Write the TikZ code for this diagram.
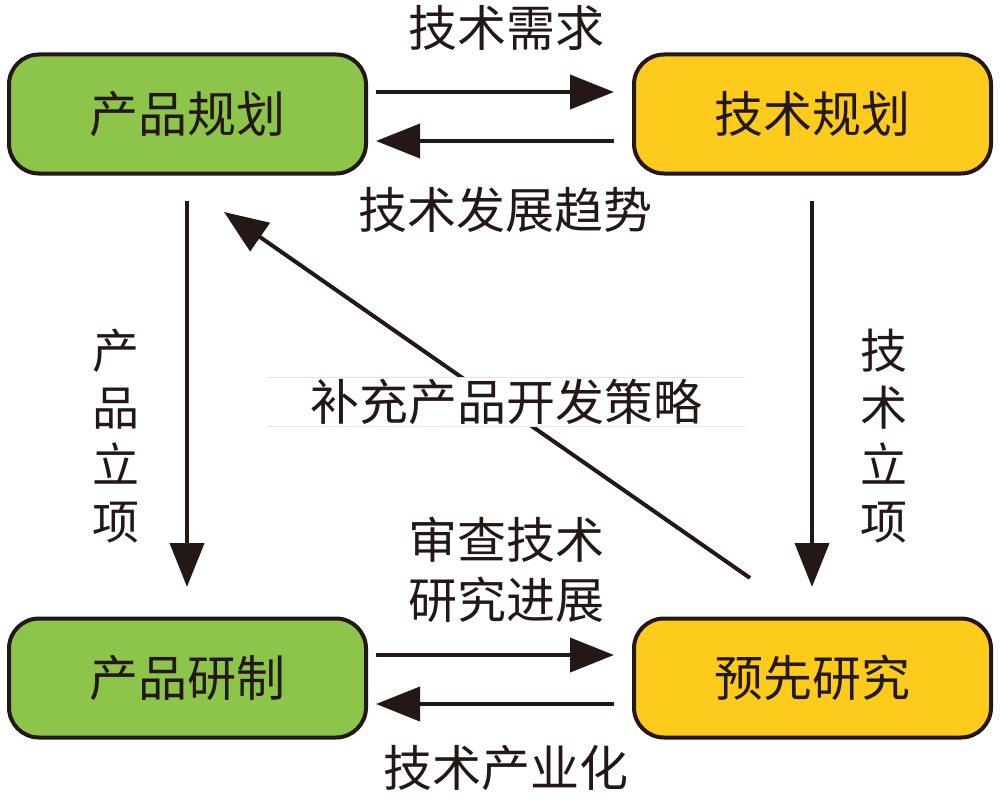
\documentclass[tikz,border=0pt]{standalone}
\usepackage{fontspec}
\newfontfamily\cjk{Noto Sans CJK SC}
\usetikzlibrary{arrows.meta}
\definecolor{boxgreen}{HTML}{8DC54B}
\definecolor{boxyellow}{HTML}{FCCB1C}
\definecolor{ink}{HTML}{231815}
\tikzset{
  box/.style={draw=ink, line width=4pt, rounded corners=30pt, minimum width=357pt, minimum height=119pt, font=\cjk\fontsize{49}{55}\selectfont, text=ink, inner sep=0pt},
  conn/.style={draw=ink, line width=4pt, -{Triangle[length=44pt,width=34pt]}},
  lbl/.style={font=\cjk\fontsize{49}{55}\selectfont, text=ink, inner sep=0pt},
  vlbl/.style={font=\cjk\fontsize{47}{57}\selectfont, text=ink, inner sep=0pt, align=center}
}
\begin{document}
\begin{tikzpicture}[x=1pt,y=-1pt]
\useasboundingbox (0,0) rectangle (1003,800);
\node[box, fill=boxgreen] (pp) at (187.5,114) {产品规划};
\node[box, fill=boxyellow] (tp) at (812.5,114) {技术规划};
\node[box, fill=boxgreen] (pd) at (187.5,678) {产品研制};
\node[box, fill=boxyellow] (pr) at (812.5,678) {预先研究};

\coordinate (a1s) at (376,92);  \coordinate (a1e) at (614,92);
\coordinate (a2s) at (614,141); \coordinate (a2e) at (376,141);
\coordinate (a3s) at (376,655); \coordinate (a3e) at (614,655);
\coordinate (a4s) at (614,704); \coordinate (a4e) at (376,704);
\coordinate (v1s) at (187,201); \coordinate (v1e) at (187,587);
\coordinate (v2s) at (812,201); \coordinate (v2e) at (812,587);
\coordinate (ds) at (750,578);  \coordinate (de) at (224,212);

\draw[conn] (a1s) -- (a1e);
\draw[conn] (a2s) -- (a2e);
\draw[conn] (a3s) -- (a3e);
\draw[conn] (a4s) -- (a4e);
\draw[conn] (v1s) -- (v1e);
\draw[conn] (v2s) -- (v2e);
\draw[conn] (ds) -- (de);

\node[lbl] (l1) at (506,28) {技术需求};
\node[lbl] (l2) at (505,210) {技术发展趋势};
\node[vlbl] (l3) at (116,436) {产\\品\\立\\项};
\node[vlbl] (l4) at (884,436) {技\\术\\立\\项};
\node[lbl, fill=white, minimum width=477pt, minimum height=49pt] (l5) at (506,402) {补充产品开发策略};
\draw[black!10, line width=0.8pt] (l5.north west) -- (l5.north east);
\draw[black!10, line width=0.8pt] (l5.south west) -- (l5.south east);
\node[lbl, align=center, font=\cjk\fontsize{49}{60}\selectfont] (l6) at (506,570) {审查技术\\研究进展};
\node[lbl] (l7) at (506,768) {技术产业化};
\end{tikzpicture}
\end{document}
